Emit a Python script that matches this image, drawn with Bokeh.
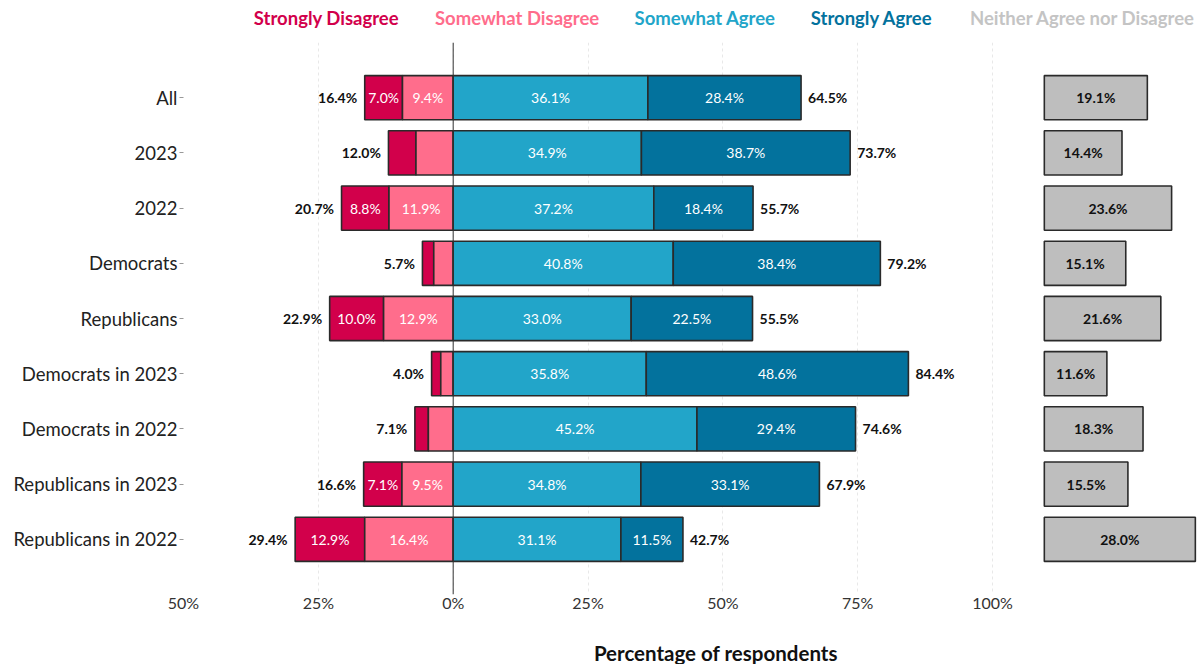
from bokeh.plotting import figure
from bokeh.layouts import column
from bokeh.models import Range1d, FixedTicker, Span
from bokeh.core.properties import value
from bokeh.embed import file_html
from bokeh.resources import INLINE

groups = ["All", "2023", "2022", "Democrats", "Republicans",
          "Democrats in 2023", "Democrats in 2022",
          "Republicans in 2023", "Republicans in 2022"]
strongly_disagree = [7.0, 5.1, 8.8, 2.1, 10.0, 1.7, 2.5, 7.1, 12.9]
somewhat_disagree = [9.4, 6.9, 11.9, 3.6, 12.9, 2.3, 4.6, 9.5, 16.4]
somewhat_agree = [36.1, 34.9, 37.2, 40.8, 33.0, 35.8, 45.2, 34.8, 31.1]
strongly_agree = [28.4, 38.7, 18.4, 38.4, 22.5, 48.6, 29.4, 33.1, 11.5]
neither = [19.1, 14.4, 23.6, 15.1, 21.6, 11.6, 18.3, 15.5, 28.0]
disagree_total = [16.4, 12.0, 20.7, 5.7, 22.9, 4.0, 7.1, 16.6, 29.4]
agree_total = [64.5, 73.7, 55.7, 79.2, 55.5, 84.4, 74.6, 67.9, 42.7]
x_ticks = [-50, -25, 0, 25, 50, 75, 100]
x_tick_labels = ["50%", "25%", "0%", "25%", "50%", "75%", "100%"]
legend_names = ["Strongly Disagree", "Somewhat Disagree", "Somewhat Agree",
                "Strongly Agree", "Neither Agree nor Disagree"]
x_title = "Percentage of respondents"

C_SD = "#d2004b"
C_SWD = "#ff6d8c"
C_SWA = "#22a5c9"
C_SA = "#03729d"
C_N = "#bebebe"
C_N_TXT = "#c4c4c4"
OUTLINE = "#2a2a2a"
FONT = value("Lato")
NEITHER_START = 109.6

W = 1199
LEFT = 183
RIGHT = 2
xr = Range1d(-50, 138)
ys = list(range(len(groups)))

# ---------- legend strip ----------
leg = figure(width=W, height=42, output_backend="svg", toolbar_location=None,
             x_range=xr, y_range=Range1d(0, 1), x_axis_type=None, y_axis_type=None,
             min_border_left=LEFT, min_border_right=RIGHT, min_border_top=0,
             min_border_bottom=0)
leg.outline_line_color = None
leg.xgrid.grid_line_color = None
leg.ygrid.grid_line_color = None
legend_colors = [C_SD, C_SWD, C_SWA, C_SA, C_N_TXT]
legend_x = [-23.5, 11.85, 46.7, 77.6, 116.7]
leg.text(x=legend_x, y=[0.595] * len(legend_x), text=legend_names,
         text_color=legend_colors, text_font=FONT, text_font_size="18.5px",
         text_font_style="bold", text_align="center", text_baseline="middle")

# ---------- main chart ----------
p = figure(width=W, height=581, output_backend="svg", toolbar_location=None,
           x_range=xr, y_range=Range1d(9, -1),
           min_border_left=LEFT, min_border_right=RIGHT, min_border_top=0,
           min_border_bottom=29)
p.outline_line_color = None

p.xgrid.ticker = FixedTicker(ticks=x_ticks)
p.xgrid.grid_line_color = "#e8e8e8"
p.xgrid.grid_line_dash = "3 3"
p.xgrid.grid_line_width = 1
p.ygrid.grid_line_color = None

p.xaxis.ticker = FixedTicker(ticks=x_ticks)
p.xaxis.major_label_overrides = {t: l for t, l in zip(x_ticks, x_tick_labels)}
p.xaxis.axis_line_color = None
p.xaxis.major_tick_line_color = None
p.xaxis.minor_tick_line_color = None
p.xaxis.major_tick_out = 0
p.xaxis.major_tick_in = 0
p.xaxis.major_label_text_font = "Lato"
p.xaxis.major_label_text_font_size = "16px"
p.xaxis.major_label_text_color = "#333333"
p.xaxis.major_label_standoff = -2

p.yaxis.ticker = FixedTicker(ticks=ys)
p.yaxis.major_label_overrides = {i: g for i, g in zip(ys, groups)}
p.yaxis.axis_line_color = None
p.yaxis.minor_tick_line_color = None
p.yaxis.major_tick_line_color = "#999999"
p.yaxis.major_tick_out = 4
p.yaxis.major_tick_in = 0
p.yaxis.major_label_text_font = "Lato"
p.yaxis.major_label_text_font_size = "18.5px"
p.yaxis.major_label_text_color = "#222222"
p.yaxis.major_label_standoff = 2

sd_left = [-(a + b) for a, b in zip(strongly_disagree, somewhat_disagree)]
sd_right = [-b for b in somewhat_disagree]
zero = [0.0] * len(groups)
sa_right = [a + b for a, b in zip(somewhat_agree, strongly_agree)]
n_left = [NEITHER_START] * len(groups)
n_right = [NEITHER_START + n for n in neither]

bar_kw = dict(height=0.8, line_color=OUTLINE, line_width=1.6)
p.hbar(y=ys, left=sd_left, right=sd_right, fill_color=C_SD, **bar_kw)
p.hbar(y=ys, left=sd_right, right=zero, fill_color=C_SWD, **bar_kw)
p.hbar(y=ys, left=zero, right=somewhat_agree, fill_color=C_SWA, **bar_kw)
p.hbar(y=ys, left=somewhat_agree, right=sa_right, fill_color=C_SA, **bar_kw)
p.hbar(y=ys, left=n_left, right=n_right, fill_color=C_N, **bar_kw)

p.add_layout(Span(location=0, dimension="height", line_color="#333333", line_width=1))

seg_x, seg_y, seg_t = [], [], []
for i in ys:
    segs = [
        (sd_left[i], sd_right[i], strongly_disagree[i]),
        (sd_right[i], 0.0, somewhat_disagree[i]),
        (0.0, somewhat_agree[i], somewhat_agree[i]),
        (somewhat_agree[i], sa_right[i], strongly_agree[i]),
    ]
    for l, r, v in segs:
        if v >= 7.0:
            seg_x.append((l + r) / 2)
            seg_y.append(i)
            seg_t.append(f"{v:.1f}%")
p.text(x=seg_x, y=seg_y, text=seg_t, text_font=FONT, text_font_size="14px",
       text_color="white", text_align="center", text_baseline="middle")

tot_kw = dict(text_font=FONT, text_font_size="14px", text_font_style="bold",
              text_color="#111111", text_baseline="middle")
p.text(x=[l - 1.4 for l in sd_left], y=ys, text=[f"{v:.1f}%" for v in disagree_total],
       text_align="right", **tot_kw)
p.text(x=[r + 1.3 for r in sa_right], y=ys, text=[f"{v:.1f}%" for v in agree_total],
       text_align="left", **tot_kw)
p.text(x=[(l + r) / 2 for l, r in zip(n_left, n_right)], y=ys,
       text=[f"{v:.1f}%" for v in neither], text_align="center", **tot_kw)

# ---------- x-axis title strip ----------
ttl = figure(width=W, height=41, output_backend="svg", toolbar_location=None,
             x_range=xr, y_range=Range1d(0, 1), x_axis_type=None, y_axis_type=None,
             min_border_left=LEFT, min_border_right=RIGHT, min_border_top=0,
             min_border_bottom=0)
ttl.outline_line_color = None
ttl.xgrid.grid_line_color = None
ttl.ygrid.grid_line_color = None
ttl.text(x=[48.7], y=[0.27], text=[x_title], text_color="#111111", text_font=FONT,
         text_font_size="20.5px", text_font_style="bold", text_align="center",
         text_baseline="middle")

layout = column(leg, p, ttl, spacing=0)
open("out.html", "w").write(file_html(layout, INLINE))
